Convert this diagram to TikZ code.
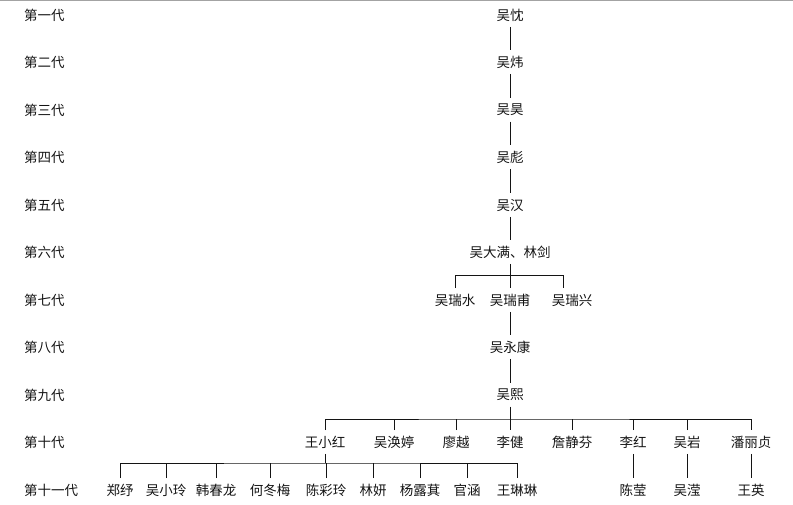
\documentclass[tikz,border=0pt]{standalone}
\usepackage{fontspec}
\setmainfont{Noto Sans CJK SC}
\definecolor{arbolTinta}{HTML}{141414}
\definecolor{arbolGris}{HTML}{A3A3A3}
\usepackage{tikz}
\tikzset{
	generacion/.style={
		anchor=west,
		inner sep=0pt,
		text=arbolTinta,
		font=\fontsize{13.5}{15}\selectfont
	},
	persona/.style={
		inner xsep=1pt,
		inner ysep=5.5pt,
		text=arbolTinta,
		font=\fontsize{13.5}{15}\selectfont
	},
	rama/.style={
		draw=arbolTinta,
		line width=0.9pt
	}
}

\begin{document}
\begin{tikzpicture}[x=1pt,y=-1pt]
		\useasboundingbox (0,0) rectangle (793,505);
		\draw[arbolGris, line width=1.5pt] (0,0.75) -- (793,0.75);
		% generaciones
		\node[generacion] (gen1) at (24,15) {第一代};
		\node[generacion] (gen2) at (24,62) {第二代};
		\node[generacion] (gen3) at (24,110) {第三代};
		\node[generacion] (gen4) at (24,157) {第四代};
		\node[generacion] (gen5) at (24,205) {第五代};
		\node[generacion] (gen6) at (24,252) {第六代};
		\node[generacion] (gen7) at (24,300) {第七代};
		\node[generacion] (gen8) at (24,347) {第八代};
		\node[generacion] (gen9) at (24,395) {第九代};
		\node[generacion] (gen10) at (24,442) {第十代};
		\node[generacion] (gen11) at (24,490) {第十一代};
		% linea principal
		\node[persona] (wuChen) at (510,15) {吴忱};
		\node[persona] (wuWei) at (510,62) {吴炜};
		\node[persona] (wuHao) at (510,110) {吴昊};
		\node[persona] (wuBiao) at (510,157) {吴彪};
		\node[persona] (wuHan) at (510,205) {吴汉};
		\node[persona] (wuDaman) at (510,252) {吴大满、林剑};
		\node[persona] (wuRuishui) at (455,300) {吴瑞水};
		\node[persona] (wuRuifu) at (510,300) {吴瑞甫};
		\node[persona] (wuRuixing) at (572,300) {吴瑞兴};
		\node[persona] (wuYongkang) at (510,347) {吴永康};
		\node[persona] (wuXi) at (510,395) {吴熙};
		% decima generacion
		\node[persona] (wangXiaohong) at (325,442) {王小红};
		\node[persona] (wuHuanting) at (394,442) {吴涣婷};
		\node[persona] (liaoYue) at (456,442) {廖越};
		\node[persona] (liJian) at (510,442) {李健};
		\node[persona] (zhanJingfen) at (572,442) {詹静芬};
		\node[persona] (liHong) at (633,442) {李红};
		\node[persona] (wuYan) at (687,442) {吴岩};
		\node[persona] (panLizhen) at (751,442) {潘丽贞};
		% undecima generacion
		\node[persona] (zhengShu) at (120,490) {郑纾};
		\node[persona] (wuXiaoling) at (166,490) {吴小玲};
		\node[persona] (hanChunlong) at (216,490) {韩春龙};
		\node[persona] (heDongmei) at (270,490) {何冬梅};
		\node[persona] (chenCailing) at (326,490) {陈彩玲};
		\node[persona] (linYan) at (373,490) {林妍};
		\node[persona] (yangLuqi) at (420,490) {杨露萁};
		\node[persona] (guanHan) at (467,490) {官涵};
		\node[persona] (wangLinlin) at (517,490) {王琳琳};
		\node[persona] (chenYing) at (633,490) {陈莹};
		\node[persona] (wuYing) at (687,490) {吴滢};
		\node[persona] (wangYing) at (751,490) {王英};
		% ramas
		\draw[rama] (wuChen) -- (wuWei);
		\draw[rama] (wuWei) -- (wuHao);
		\draw[rama] (wuHao) -- (wuBiao);
		\draw[rama] (wuBiao) -- (wuHan);
		\draw[rama] (wuHan) -- (wuDaman);
		\coordinate (barra7) at (563,275);
		\draw[rama] (wuDaman) -- (wuRuifu);
		\draw[rama] (wuRuishui.north) |- (barra7) -- (barra7 |- wuRuixing.north);
		\draw[rama] (wuRuifu) -- (wuYongkang);
		\draw[rama] (wuYongkang) -- (wuXi);
		\coordinate (barra10) at (510,419);
		\draw[rama] (wuXi) -- (liJian);
		\draw[rama] (wangXiaohong.north) |- (barra10) -| (panLizhen.north);
		\foreach \hijo in {wuHuanting,liaoYue,zhanJingfen,liHong,wuYan}
			\draw[rama] (\hijo.north) -- (\hijo.north |- barra10);
		\coordinate (barra11) at (325,463);
		\draw[rama] (wangXiaohong.south) -- (barra11);
		\draw[rama] (zhengShu.north) |- (barra11) -| (wangLinlin.north);
		\foreach \hijo in {wuXiaoling,hanChunlong,heDongmei,chenCailing,linYan,yangLuqi,guanHan}
			\draw[rama] (\hijo.north) -- (\hijo.north |- barra11);
		\draw[rama] (liHong) -- (chenYing);
		\draw[rama] (wuYan) -- (wuYing);
		\draw[rama] (panLizhen) -- (wangYing);
	\end{tikzpicture}
\end{document}
